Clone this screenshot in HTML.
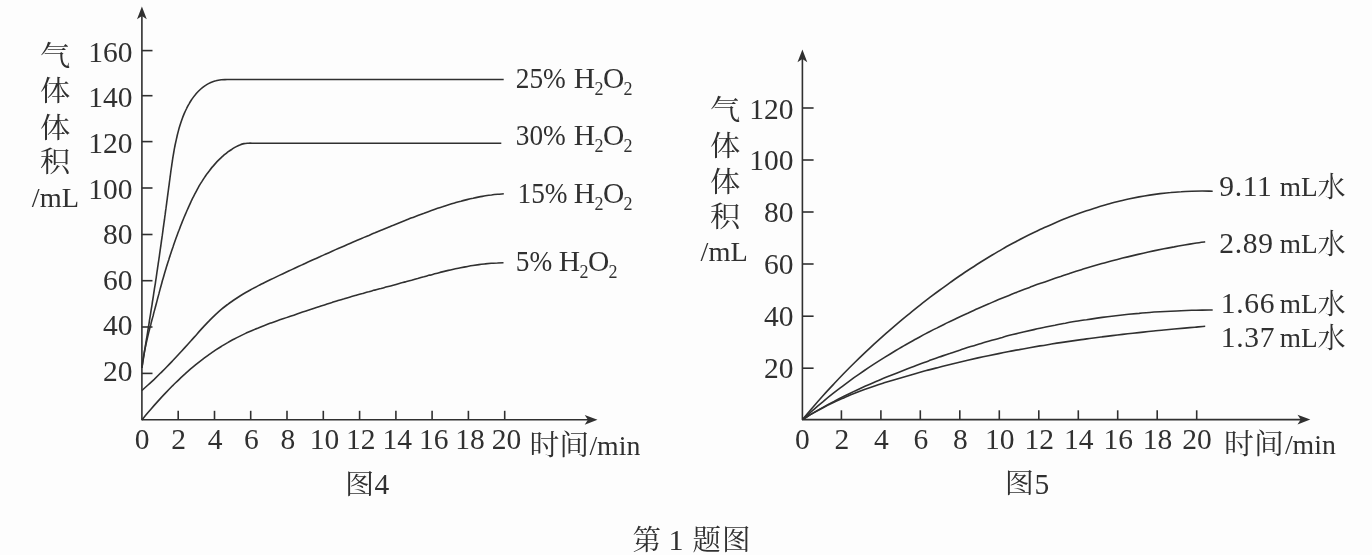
<!DOCTYPE html>
<html lang="zh-CN"><head><meta charset="utf-8"><title>第 1 题图</title>
<style>
html,body{margin:0;padding:0;background:#fdfdfd;}
body{width:1372px;height:555px;overflow:hidden;}
svg{display:block;position:absolute;left:0;top:0;}
text{font-family:"Liberation Serif","Noto Serif CJK SC",serif;fill:#303030;}
.n{font-size:29.5px;font-family:"Liberation Serif","Noto Serif CJK SC",serif;}
.c{font-size:28px;font-family:"Liberation Serif","Noto Serif CJK SC",serif;}
.s{font-size:18px;}
.m{font-size:27.8px;}
.m2{font-size:27.3px;}
.ln{fill:none;stroke:#303030;stroke-width:1.6;stroke-linecap:butt;stroke-linejoin:round;}
.ar{fill:#303030;stroke:none;}
</style></head><body>
<svg width="1372" height="555" viewBox="0 0 1372 555">
<rect x="0" y="0" width="1372" height="555" fill="#fdfdfd"/>
<g id="fig4">
<path class="ln" d="M141.9 16.0 L141.9 419.8 L590.0 419.8"/>
<path class="ar" d="M141.9 6.5 L146.8 19.3 L141.9 16.1 L137.0 19.3 Z"/>
<path class="ar" d="M597.5 419.8 L584.7 414.9 L587.9 419.8 L584.7 424.7 Z"/>
<path class="ln" d="M141.9 373.4 H152.5"/>
<path class="ln" d="M141.9 327.0 H152.5"/>
<path class="ln" d="M141.9 280.7 H152.5"/>
<path class="ln" d="M141.9 234.5 H152.5"/>
<path class="ln" d="M141.9 188.0 H152.5"/>
<path class="ln" d="M141.9 141.6 H152.5"/>
<path class="ln" d="M141.9 95.7 H152.5"/>
<path class="ln" d="M141.9 50.6 H152.5"/>
<path class="ln" d="M178.2 419.8 V410.8"/>
<path class="ln" d="M214.5 419.8 V410.8"/>
<path class="ln" d="M250.7 419.8 V410.8"/>
<path class="ln" d="M287.0 419.8 V410.8"/>
<path class="ln" d="M323.3 419.8 V410.8"/>
<path class="ln" d="M359.6 419.8 V410.8"/>
<path class="ln" d="M395.9 419.8 V410.8"/>
<path class="ln" d="M432.1 419.8 V410.8"/>
<path class="ln" d="M468.4 419.8 V410.8"/>
<path class="ln" d="M504.7 419.8 V410.8"/>
<path class="ln" d="M141.9 368.0 C142.0 367.1 142.5 364.5 142.7 362.7 C143.0 360.9 143.3 359.1 143.6 357.4 C143.9 355.6 144.1 353.8 144.4 352.0 C144.7 350.3 145.0 348.5 145.3 346.7 C145.6 345.0 145.8 343.2 146.1 341.4 C146.4 339.6 146.7 337.9 147.0 336.1 C147.3 334.3 147.6 332.6 147.8 330.8 C148.1 329.0 148.4 327.3 148.7 325.5 C149.0 323.7 149.3 322.0 149.5 320.2 C149.8 318.4 150.1 316.6 150.4 314.9 C150.7 313.1 150.9 311.3 151.2 309.6 C151.5 307.8 151.8 306.0 152.1 304.3 C152.3 302.5 152.6 300.7 152.9 299.0 C153.2 297.2 153.5 295.4 153.7 293.7 C154.0 291.9 154.3 290.1 154.5 288.4 C154.8 286.6 155.1 284.8 155.4 283.1 C155.6 281.3 155.9 279.6 156.2 277.8 C156.4 276.0 156.7 274.3 156.9 272.5 C157.2 270.7 157.5 269.0 157.7 267.2 C158.0 265.4 158.2 263.7 158.5 261.9 C158.8 260.1 159.0 258.4 159.3 256.6 C159.5 254.8 159.8 253.1 160.0 251.3 C160.3 249.5 160.5 247.8 160.8 246.0 C161.0 244.2 161.3 242.5 161.5 240.7 C161.8 238.9 162.0 237.2 162.3 235.4 C162.5 233.6 162.8 231.9 163.0 230.1 C163.2 228.3 163.5 226.6 163.7 224.8 C164.0 223.0 164.2 221.3 164.5 219.5 C164.7 217.7 164.9 216.0 165.2 214.2 C165.4 212.4 165.6 210.6 165.9 208.9 C166.1 207.1 166.4 205.3 166.6 203.6 C166.8 201.8 167.1 200.0 167.3 198.3 C167.5 196.5 167.8 194.7 168.0 192.9 C168.2 191.2 168.5 189.4 168.7 187.6 C169.0 185.9 169.2 184.1 169.4 182.3 C169.7 180.5 169.9 178.8 170.1 177.0 C170.4 175.2 170.6 173.4 170.8 171.7 C171.1 169.9 171.3 168.1 171.6 166.3 C171.8 164.5 172.1 162.8 172.4 161.0 C172.6 159.2 172.9 157.4 173.2 155.7 C173.5 153.9 173.8 152.1 174.1 150.3 C174.4 148.5 174.8 146.8 175.1 145.0 C175.5 143.2 175.9 141.4 176.3 139.6 C176.7 137.8 177.1 136.1 177.5 134.3 C178.0 132.5 178.5 130.7 178.9 128.9 C179.4 127.2 180.0 125.4 180.5 123.7 C181.1 121.9 181.7 120.2 182.3 118.5 C182.9 116.8 183.6 115.1 184.3 113.4 C185.0 111.8 185.8 110.1 186.6 108.5 C187.3 106.9 188.2 105.4 189.1 103.8 C189.9 102.3 190.9 100.8 191.8 99.4 C192.8 97.9 193.8 96.5 194.9 95.2 C196.0 93.8 197.2 92.5 198.4 91.3 C199.6 90.1 200.8 88.9 202.1 87.9 C203.4 86.8 204.8 85.8 206.3 84.9 C207.7 84.0 209.2 83.2 210.8 82.5 C212.4 81.8 214.0 81.2 215.8 80.8 C217.5 80.3 219.3 80.0 221.2 79.8 C223.0 79.6 226.0 79.6 227.0 79.5 L503.7 79.5"/>
<path class="ln" d="M141.9 368.0 C142.0 367.3 142.3 365.1 142.5 363.6 C142.7 362.1 142.9 360.6 143.1 359.2 C143.3 357.7 143.6 356.2 143.9 354.8 C144.1 353.3 144.4 351.9 144.7 350.4 C145.0 348.9 145.3 347.5 145.6 346.0 C145.9 344.5 146.2 343.1 146.6 341.6 C146.9 340.2 147.2 338.7 147.6 337.2 C147.9 335.8 148.3 334.3 148.6 332.9 C149.0 331.4 149.4 330.0 149.7 328.5 C150.1 327.1 150.5 325.6 150.9 324.2 C151.2 322.7 151.6 321.3 152.0 319.8 C152.4 318.4 152.8 316.9 153.2 315.5 C153.5 314.0 153.9 312.6 154.3 311.1 C154.7 309.7 155.1 308.3 155.5 306.8 C155.8 305.4 156.2 303.9 156.6 302.5 C157.0 301.1 157.3 299.6 157.7 298.2 C158.1 296.7 158.5 295.3 158.9 293.9 C159.2 292.4 159.6 291.0 160.0 289.6 C160.4 288.1 160.8 286.7 161.2 285.3 C161.6 283.9 162.0 282.4 162.3 281.0 C162.7 279.6 163.2 278.2 163.6 276.7 C164.0 275.3 164.4 273.9 164.8 272.5 C165.2 271.0 165.7 269.6 166.1 268.2 C166.5 266.8 167.0 265.4 167.4 264.0 C167.8 262.5 168.3 261.1 168.8 259.7 C169.2 258.3 169.7 256.9 170.1 255.5 C170.6 254.1 171.1 252.7 171.5 251.3 C172.0 249.8 172.5 248.4 173.0 247.0 C173.4 245.6 173.9 244.2 174.4 242.8 C174.9 241.4 175.4 240.0 175.9 238.6 C176.4 237.2 176.9 235.8 177.4 234.4 C177.9 233.0 178.5 231.6 179.0 230.3 C179.5 228.9 180.1 227.5 180.6 226.1 C181.1 224.7 181.7 223.3 182.2 221.9 C182.8 220.5 183.4 219.1 183.9 217.8 C184.5 216.4 185.1 215.0 185.7 213.6 C186.3 212.2 186.9 210.9 187.5 209.5 C188.1 208.1 188.7 206.7 189.3 205.4 C189.9 204.0 190.6 202.6 191.2 201.2 C191.9 199.9 192.5 198.5 193.2 197.2 C193.9 195.8 194.6 194.5 195.3 193.1 C196.0 191.8 196.7 190.5 197.4 189.1 C198.1 187.8 198.9 186.5 199.6 185.2 C200.4 183.9 201.2 182.6 202.0 181.4 C202.8 180.1 203.6 178.8 204.4 177.6 C205.2 176.4 206.1 175.1 206.9 173.9 C207.8 172.7 208.7 171.5 209.6 170.4 C210.5 169.2 211.4 168.0 212.4 166.9 C213.3 165.8 214.3 164.7 215.3 163.6 C216.3 162.5 217.3 161.4 218.3 160.4 C219.4 159.3 220.4 158.3 221.5 157.3 C222.6 156.3 223.7 155.4 224.8 154.4 C226.0 153.5 227.1 152.6 228.3 151.7 C229.5 150.8 230.7 150.0 232.0 149.2 C233.2 148.4 234.5 147.6 235.8 146.9 C237.1 146.2 238.4 145.5 239.8 145.0 C241.1 144.4 242.5 143.9 244.0 143.6 C245.4 143.3 246.9 143.3 248.4 143.2 C249.9 143.1 252.2 143.2 253.0 143.2 L501.3 143.2"/>
<path class="ln" d="M141.9 390.5 C142.9 389.6 146.0 386.9 148.0 385.0 C150.1 383.2 152.1 381.2 154.2 379.3 C156.2 377.4 158.3 375.4 160.3 373.3 C162.3 371.3 164.4 369.3 166.4 367.2 C168.5 365.1 170.5 363.0 172.6 360.8 C174.6 358.7 176.7 356.5 178.7 354.3 C180.7 352.1 182.8 349.8 184.8 347.6 C186.9 345.3 188.9 343.1 191.0 340.8 C193.0 338.5 195.1 336.2 197.1 333.9 C199.1 331.6 201.2 329.3 203.2 327.1 C205.3 324.9 207.3 322.7 209.4 320.6 C211.4 318.5 213.5 316.5 215.5 314.6 C217.6 312.7 219.6 310.9 221.6 309.2 C223.7 307.4 225.7 305.9 227.8 304.3 C229.8 302.8 231.9 301.4 233.9 300.0 C236.0 298.6 238.0 297.3 240.0 296.0 C242.1 294.7 244.1 293.5 246.2 292.3 C248.2 291.1 250.3 290.0 252.3 288.9 C254.4 287.8 256.4 286.7 258.4 285.6 C260.5 284.6 262.5 283.5 264.6 282.5 C266.6 281.5 268.7 280.5 270.7 279.5 C272.8 278.6 274.8 277.6 276.8 276.6 C278.9 275.6 280.9 274.7 283.0 273.7 C285.0 272.8 287.1 271.8 289.1 270.8 C291.2 269.9 293.2 268.9 295.2 268.0 C297.3 267.0 299.3 266.1 301.4 265.1 C303.4 264.2 305.5 263.3 307.5 262.3 C309.6 261.4 311.6 260.5 313.6 259.5 C315.7 258.6 317.7 257.7 319.8 256.8 C321.8 255.8 323.9 254.9 325.9 254.0 C328.0 253.1 330.0 252.2 332.1 251.3 C334.1 250.4 336.1 249.5 338.2 248.6 C340.2 247.7 342.3 246.8 344.3 245.9 C346.4 245.0 348.4 244.1 350.5 243.2 C352.5 242.3 354.5 241.5 356.6 240.6 C358.6 239.7 360.7 238.8 362.7 238.0 C364.8 237.1 366.8 236.2 368.9 235.4 C370.9 234.5 372.9 233.6 375.0 232.8 C377.0 231.9 379.1 231.1 381.1 230.2 C383.2 229.4 385.2 228.5 387.3 227.7 C389.3 226.9 391.3 226.0 393.4 225.2 C395.4 224.4 397.5 223.5 399.5 222.7 C401.6 221.9 403.6 221.1 405.7 220.3 C407.7 219.5 409.7 218.6 411.8 217.8 C413.8 217.0 415.9 216.3 417.9 215.5 C420.0 214.7 422.0 213.9 424.1 213.2 C426.1 212.4 428.1 211.6 430.2 210.9 C432.2 210.2 434.3 209.5 436.3 208.7 C438.4 208.0 440.4 207.3 442.5 206.7 C444.5 206.0 446.6 205.3 448.6 204.7 C450.6 204.1 452.7 203.5 454.7 202.9 C456.8 202.3 458.8 201.7 460.9 201.2 C462.9 200.6 465.0 200.1 467.0 199.6 C469.0 199.1 471.1 198.6 473.1 198.2 C475.2 197.7 477.2 197.3 479.3 196.9 C481.3 196.5 483.4 196.2 485.4 195.8 C487.4 195.5 489.5 195.2 491.5 195.0 C493.6 194.7 495.6 194.5 497.7 194.3 C499.7 194.1 502.8 193.9 503.8 193.8"/>
<path class="ln" d="M141.9 419.9 C142.9 418.7 146.0 414.9 148.0 412.5 C150.1 410.1 152.1 407.8 154.2 405.4 C156.2 403.1 158.2 400.9 160.3 398.6 C162.3 396.4 164.4 394.2 166.4 392.1 C168.5 390.0 170.5 387.9 172.5 385.8 C174.6 383.8 176.6 381.8 178.7 379.8 C180.7 377.9 182.8 376.0 184.8 374.2 C186.8 372.3 188.9 370.5 190.9 368.7 C193.0 367.0 195.0 365.3 197.1 363.6 C199.1 362.0 201.1 360.4 203.2 358.8 C205.2 357.3 207.3 355.8 209.3 354.3 C211.4 352.9 213.4 351.4 215.4 350.1 C217.5 348.7 219.5 347.4 221.6 346.2 C223.6 344.9 225.7 343.7 227.7 342.6 C229.7 341.4 231.8 340.3 233.8 339.2 C235.9 338.1 237.9 337.1 240.0 336.1 C242.0 335.1 244.0 334.1 246.1 333.1 C248.1 332.2 250.2 331.3 252.2 330.4 C254.3 329.5 256.3 328.7 258.3 327.9 C260.4 327.0 262.4 326.2 264.5 325.4 C266.5 324.7 268.6 323.9 270.6 323.1 C272.6 322.4 274.7 321.7 276.7 320.9 C278.8 320.2 280.8 319.5 282.9 318.8 C284.9 318.1 286.9 317.4 289.0 316.7 C291.0 316.0 293.1 315.4 295.1 314.7 C297.2 314.0 299.2 313.3 301.2 312.6 C303.3 311.9 305.3 311.3 307.4 310.6 C309.4 309.9 311.5 309.2 313.5 308.5 C315.5 307.9 317.6 307.2 319.6 306.5 C321.7 305.8 323.7 305.2 325.8 304.5 C327.8 303.9 329.9 303.2 331.9 302.6 C333.9 301.9 336.0 301.3 338.0 300.6 C340.1 300.0 342.1 299.4 344.2 298.8 C346.2 298.1 348.2 297.5 350.3 296.9 C352.3 296.3 354.4 295.8 356.4 295.2 C358.5 294.6 360.5 294.0 362.5 293.5 C364.6 292.9 366.6 292.3 368.7 291.8 C370.7 291.2 372.8 290.7 374.8 290.1 C376.8 289.6 378.9 289.0 380.9 288.5 C383.0 287.9 385.0 287.4 387.1 286.8 C389.1 286.3 391.1 285.8 393.2 285.2 C395.2 284.7 397.3 284.1 399.3 283.5 C401.4 283.0 403.4 282.4 405.4 281.9 C407.5 281.3 409.5 280.7 411.6 280.2 C413.6 279.6 415.7 279.0 417.7 278.5 C419.7 277.9 421.8 277.3 423.8 276.8 C425.9 276.2 427.9 275.7 430.0 275.1 C432.0 274.6 434.0 274.0 436.1 273.5 C438.1 273.0 440.2 272.4 442.2 271.9 C444.3 271.4 446.3 270.9 448.3 270.4 C450.4 270.0 452.4 269.5 454.5 269.0 C456.5 268.6 458.6 268.2 460.6 267.7 C462.6 267.3 464.7 266.9 466.7 266.6 C468.8 266.2 470.8 265.8 472.9 265.5 C474.9 265.2 476.9 264.9 479.0 264.6 C481.0 264.3 483.1 264.1 485.1 263.9 C487.2 263.7 489.2 263.5 491.2 263.3 C493.3 263.2 495.3 263.0 497.4 263.0 C499.4 262.9 502.5 262.8 503.5 262.8"/>
<text class="n" x="132.5" y="380.7" text-anchor="end">20</text>
<text class="n" x="132.5" y="335.1" text-anchor="end">40</text>
<text class="n" x="132.5" y="289.6" text-anchor="end">60</text>
<text class="n" x="132.5" y="244.1" text-anchor="end">80</text>
<text class="n" x="132.5" y="198.5" text-anchor="end">100</text>
<text class="n" x="132.5" y="153.0" text-anchor="end">120</text>
<text class="n" x="132.5" y="107.4" text-anchor="end">140</text>
<text class="n" x="132.5" y="61.9" text-anchor="end">160</text>
<text class="n" x="142.1" y="449.1" text-anchor="middle">0</text>
<text class="n" x="178.6" y="449.1" text-anchor="middle">2</text>
<text class="n" x="215.0" y="449.1" text-anchor="middle">4</text>
<text class="n" x="251.4" y="449.1" text-anchor="middle">6</text>
<text class="n" x="287.9" y="449.1" text-anchor="middle">8</text>
<text class="n" x="324.4" y="449.1" text-anchor="middle">10</text>
<text class="n" x="360.8" y="449.1" text-anchor="middle">12</text>
<text class="n" x="397.2" y="449.1" text-anchor="middle">14</text>
<text class="n" x="433.7" y="449.1" text-anchor="middle">16</text>
<text class="n" x="470.1" y="449.1" text-anchor="middle">18</text>
<text class="n" x="506.6" y="449.1" text-anchor="middle">20</text>
<text class="c" x="529.4" y="455" textLength="59.8" lengthAdjust="spacingAndGlyphs">时间</text><text class="m" x="589.4" y="454.6">/min</text>
<text class="c" transform="translate(55.2 65.5) scale(1.08 1)" x="0" y="0" text-anchor="middle">气</text>
<text class="c" transform="translate(55.2 100.8) scale(1.08 1)" x="0" y="0" text-anchor="middle">体</text>
<text class="c" transform="translate(55.2 137.5) scale(1.08 1)" x="0" y="0" text-anchor="middle">体</text>
<text class="c" transform="translate(55.2 171.7) scale(1.08 1)" x="0" y="0" text-anchor="middle">积</text>
<text class="m" x="55.4" y="206.6" text-anchor="middle" style="font-size:28.3px">/mL</text>
<text class="n" x="515.8" y="88.0" textLength="50.0" lengthAdjust="spacingAndGlyphs">25%</text><text class="n" y="88.0"><tspan x="573.7">H</tspan><tspan class="s" x="594.6" dy="7">2</tspan><tspan x="603.0" dy="-7">O</tspan><tspan class="s" x="623.4" dy="7">2</tspan></text>
<text class="n" x="515.8" y="145.2" textLength="50.0" lengthAdjust="spacingAndGlyphs">30%</text><text class="n" y="145.2"><tspan x="573.7">H</tspan><tspan class="s" x="594.6" dy="7">2</tspan><tspan x="603.0" dy="-7">O</tspan><tspan class="s" x="623.4" dy="7">2</tspan></text>
<text class="n" x="517.5" y="202.6" textLength="50.0" lengthAdjust="spacingAndGlyphs">15%</text><text class="n" y="202.6"><tspan x="573.7">H</tspan><tspan class="s" x="594.6" dy="7">2</tspan><tspan x="603.0" dy="-7">O</tspan><tspan class="s" x="623.4" dy="7">2</tspan></text>
<text class="n" x="515.8" y="271.2" textLength="36.4" lengthAdjust="spacingAndGlyphs">5%</text><text class="n" y="271.2"><tspan x="558.7">H</tspan><tspan class="s" x="579.6" dy="7">2</tspan><tspan x="588.0" dy="-7">O</tspan><tspan class="s" x="608.4" dy="7">2</tspan></text>
<text class="c" x="345.0" y="493.8" style="font-size:27.5px" textLength="29.2" lengthAdjust="spacingAndGlyphs">图</text><text class="n" x="374.6" y="494">4</text>
</g>
<g id="fig5">
<path class="ln" d="M802.4 59.0 L802.4 419.6 L1302.0 419.6"/>
<path class="ar" d="M802.4 49.5 L807.3 62.3 L802.4 59.1 L797.5 62.3 Z"/>
<path class="ar" d="M1310.3 419.6 L1297.5 414.7 L1300.7 419.6 L1297.5 424.5 Z"/>
<path class="ln" d="M802.4 368.2 H813.6"/>
<path class="ln" d="M802.4 316.2 H813.6"/>
<path class="ln" d="M802.4 264.0 H813.6"/>
<path class="ln" d="M802.4 212.0 H813.6"/>
<path class="ln" d="M802.4 160.0 H813.6"/>
<path class="ln" d="M802.4 108.0 H813.6"/>
<path class="ln" d="M841.4 419.6 V410.3"/>
<path class="ln" d="M880.9 419.6 V410.3"/>
<path class="ln" d="M920.3 419.6 V410.3"/>
<path class="ln" d="M959.8 419.6 V410.3"/>
<path class="ln" d="M999.3 419.6 V410.3"/>
<path class="ln" d="M1038.8 419.6 V410.3"/>
<path class="ln" d="M1078.3 419.6 V410.3"/>
<path class="ln" d="M1117.7 419.6 V410.3"/>
<path class="ln" d="M1157.2 419.6 V410.3"/>
<path class="ln" d="M1196.7 419.6 V410.3"/>
<path class="ln" d="M802.4 419.6 C804.2 417.5 809.4 411.2 812.9 407.2 C816.4 403.1 819.9 399.1 823.4 395.2 C826.9 391.3 830.5 387.5 834.0 383.8 C837.5 380.1 841.0 376.4 844.5 372.8 C848.0 369.2 851.5 365.7 855.0 362.3 C858.5 358.8 862.0 355.4 865.5 352.1 C869.0 348.8 872.5 345.5 876.0 342.3 C879.6 339.1 883.1 336.0 886.6 332.9 C890.1 329.8 893.6 326.8 897.1 323.8 C900.6 320.9 904.1 317.9 907.6 315.1 C911.1 312.2 914.6 309.4 918.1 306.6 C921.6 303.8 925.1 301.1 928.6 298.4 C932.2 295.7 935.7 293.0 939.2 290.5 C942.7 287.9 946.2 285.3 949.7 282.8 C953.2 280.3 956.7 277.9 960.2 275.5 C963.7 273.1 967.2 270.8 970.7 268.5 C974.2 266.2 977.7 263.9 981.2 261.7 C984.8 259.5 988.3 257.4 991.8 255.3 C995.3 253.2 998.8 251.1 1002.3 249.1 C1005.8 247.1 1009.3 245.2 1012.8 243.3 C1016.3 241.4 1019.8 239.5 1023.3 237.7 C1026.8 235.9 1030.3 234.2 1033.9 232.5 C1037.4 230.8 1040.9 229.1 1044.4 227.5 C1047.9 225.9 1051.4 224.4 1054.9 222.9 C1058.4 221.4 1061.9 219.9 1065.4 218.5 C1068.9 217.1 1072.4 215.8 1075.9 214.5 C1079.4 213.2 1082.9 212.0 1086.5 210.8 C1090.0 209.6 1093.5 208.5 1097.0 207.4 C1100.5 206.3 1104.0 205.3 1107.5 204.3 C1111.0 203.3 1114.5 202.4 1118.0 201.5 C1121.5 200.6 1125.0 199.8 1128.5 199.0 C1132.0 198.3 1135.5 197.6 1139.1 196.9 C1142.6 196.3 1146.1 195.7 1149.6 195.1 C1153.1 194.6 1156.6 194.1 1160.1 193.6 C1163.6 193.2 1167.1 192.8 1170.6 192.5 C1174.1 192.1 1177.6 191.9 1181.1 191.7 C1184.6 191.4 1188.2 191.3 1191.7 191.2 C1195.2 191.1 1198.7 191.0 1202.2 191.0 C1205.7 191.0 1210.9 191.2 1212.7 191.2"/>
<path class="ln" d="M802.4 419.6 C804.1 418.1 809.3 413.4 812.7 410.4 C816.2 407.4 819.6 404.4 823.1 401.6 C826.5 398.7 829.9 395.9 833.4 393.2 C836.8 390.5 840.3 387.9 843.7 385.3 C847.2 382.7 850.6 380.2 854.0 377.7 C857.5 375.3 860.9 372.9 864.4 370.5 C867.8 368.2 871.3 365.9 874.7 363.7 C878.1 361.4 881.6 359.2 885.0 357.1 C888.5 355.0 891.9 352.9 895.4 350.8 C898.8 348.8 902.2 346.8 905.7 344.8 C909.1 342.8 912.6 340.9 916.0 339.0 C919.5 337.1 922.9 335.3 926.3 333.4 C929.8 331.6 933.2 329.8 936.7 328.1 C940.1 326.3 943.6 324.6 947.0 322.9 C950.4 321.2 953.9 319.6 957.3 318.0 C960.8 316.3 964.2 314.7 967.7 313.2 C971.1 311.6 974.5 310.0 978.0 308.5 C981.4 307.0 984.9 305.5 988.3 304.0 C991.8 302.5 995.2 301.1 998.6 299.6 C1002.1 298.2 1005.5 296.8 1009.0 295.4 C1012.4 294.0 1015.8 292.7 1019.3 291.3 C1022.7 290.0 1026.2 288.7 1029.6 287.4 C1033.1 286.1 1036.5 284.8 1039.9 283.6 C1043.4 282.3 1046.8 281.1 1050.3 279.9 C1053.7 278.7 1057.2 277.5 1060.6 276.4 C1064.0 275.2 1067.5 274.1 1070.9 273.0 C1074.4 271.9 1077.8 270.8 1081.3 269.7 C1084.7 268.7 1088.1 267.6 1091.6 266.6 C1095.0 265.6 1098.5 264.6 1101.9 263.6 C1105.4 262.7 1108.8 261.7 1112.2 260.8 C1115.7 259.9 1119.1 259.0 1122.6 258.1 C1126.0 257.3 1129.5 256.4 1132.9 255.6 C1136.3 254.8 1139.8 254.0 1143.2 253.2 C1146.7 252.4 1150.1 251.7 1153.6 250.9 C1157.0 250.2 1160.4 249.5 1163.9 248.8 C1167.3 248.1 1170.8 247.5 1174.2 246.9 C1177.7 246.2 1181.1 245.6 1184.5 245.0 C1188.0 244.4 1191.4 243.9 1194.9 243.3 C1198.3 242.8 1203.5 242.1 1205.2 241.8"/>
<path class="ln" d="M802.4 419.6 C804.2 418.5 809.4 415.2 812.9 413.1 C816.4 411.0 819.9 409.0 823.4 407.1 C826.9 405.1 830.5 403.2 834.0 401.4 C837.5 399.5 841.0 397.7 844.5 396.0 C848.0 394.3 851.5 392.6 855.0 390.9 C858.5 389.3 862.0 387.7 865.5 386.1 C869.0 384.5 872.5 383.0 876.0 381.5 C879.6 380.0 883.1 378.5 886.6 377.1 C890.1 375.7 893.6 374.3 897.1 372.9 C900.6 371.5 904.1 370.1 907.6 368.7 C911.1 367.4 914.6 366.1 918.1 364.7 C921.6 363.4 925.1 362.1 928.6 360.9 C932.2 359.6 935.7 358.3 939.2 357.1 C942.7 355.9 946.2 354.6 949.7 353.5 C953.2 352.3 956.7 351.1 960.2 350.0 C963.7 348.8 967.2 347.7 970.7 346.6 C974.2 345.5 977.7 344.4 981.2 343.4 C984.8 342.3 988.3 341.3 991.8 340.3 C995.3 339.3 998.8 338.3 1002.3 337.4 C1005.8 336.4 1009.3 335.5 1012.8 334.6 C1016.3 333.7 1019.8 332.9 1023.3 332.0 C1026.8 331.2 1030.3 330.4 1033.9 329.6 C1037.4 328.8 1040.9 328.0 1044.4 327.3 C1047.9 326.5 1051.4 325.8 1054.9 325.2 C1058.4 324.5 1061.9 323.8 1065.4 323.2 C1068.9 322.5 1072.4 321.9 1075.9 321.3 C1079.4 320.8 1082.9 320.2 1086.5 319.7 C1090.0 319.1 1093.5 318.6 1097.0 318.1 C1100.5 317.6 1104.0 317.2 1107.5 316.7 C1111.0 316.3 1114.5 315.9 1118.0 315.5 C1121.5 315.1 1125.0 314.7 1128.5 314.3 C1132.0 314.0 1135.5 313.7 1139.1 313.4 C1142.6 313.0 1146.1 312.8 1149.6 312.5 C1153.1 312.2 1156.6 312.0 1160.1 311.8 C1163.6 311.6 1167.1 311.4 1170.6 311.2 C1174.1 311.0 1177.6 310.8 1181.1 310.7 C1184.6 310.6 1188.2 310.4 1191.7 310.3 C1195.2 310.3 1198.7 310.2 1202.2 310.1 C1205.7 310.1 1210.9 310.0 1212.7 310.0"/>
<path class="ln" d="M802.4 419.6 C804.1 418.6 809.3 415.4 812.7 413.4 C816.2 411.4 819.6 409.5 823.1 407.7 C826.5 405.9 829.9 404.2 833.4 402.6 C836.8 400.9 840.3 399.4 843.7 397.9 C847.2 396.4 850.6 395.0 854.0 393.6 C857.5 392.2 860.9 390.9 864.4 389.6 C867.8 388.4 871.3 387.2 874.7 386.0 C878.1 384.8 881.6 383.7 885.0 382.6 C888.5 381.5 891.9 380.5 895.4 379.4 C898.8 378.4 902.2 377.4 905.7 376.4 C909.1 375.4 912.6 374.4 916.0 373.4 C919.5 372.5 922.9 371.5 926.3 370.6 C929.8 369.7 933.2 368.7 936.7 367.9 C940.1 367.0 943.6 366.1 947.0 365.2 C950.4 364.4 953.9 363.5 957.3 362.7 C960.8 361.9 964.2 361.1 967.7 360.3 C971.1 359.5 974.5 358.7 978.0 357.9 C981.4 357.2 984.9 356.4 988.3 355.7 C991.8 355.0 995.2 354.3 998.6 353.6 C1002.1 352.9 1005.5 352.2 1009.0 351.5 C1012.4 350.9 1015.8 350.2 1019.3 349.6 C1022.7 348.9 1026.2 348.3 1029.6 347.7 C1033.1 347.1 1036.5 346.5 1039.9 345.9 C1043.4 345.4 1046.8 344.8 1050.3 344.2 C1053.7 343.7 1057.2 343.2 1060.6 342.6 C1064.0 342.1 1067.5 341.6 1070.9 341.1 C1074.4 340.6 1077.8 340.1 1081.3 339.6 C1084.7 339.1 1088.1 338.7 1091.6 338.2 C1095.0 337.7 1098.5 337.3 1101.9 336.9 C1105.4 336.4 1108.8 336.0 1112.2 335.6 C1115.7 335.2 1119.1 334.8 1122.6 334.4 C1126.0 334.0 1129.5 333.6 1132.9 333.2 C1136.3 332.8 1139.8 332.4 1143.2 332.1 C1146.7 331.7 1150.1 331.4 1153.6 331.0 C1157.0 330.7 1160.4 330.3 1163.9 330.0 C1167.3 329.7 1170.8 329.3 1174.2 329.0 C1177.7 328.7 1181.1 328.4 1184.5 328.1 C1188.0 327.8 1191.4 327.5 1194.9 327.2 C1198.3 326.9 1203.5 326.4 1205.2 326.3"/>
<text class="n" x="793.6" y="377.5" text-anchor="end">20</text>
<text class="n" x="793.6" y="325.7" text-anchor="end">40</text>
<text class="n" x="793.6" y="273.9" text-anchor="end">60</text>
<text class="n" x="793.6" y="222.1" text-anchor="end">80</text>
<text class="n" x="793.6" y="170.3" text-anchor="end">100</text>
<text class="n" x="793.6" y="118.5" text-anchor="end">120</text>
<text class="n" x="802.4" y="448.6" text-anchor="middle">0</text>
<text class="n" x="841.9" y="448.6" text-anchor="middle">2</text>
<text class="n" x="881.3" y="448.6" text-anchor="middle">4</text>
<text class="n" x="920.8" y="448.6" text-anchor="middle">6</text>
<text class="n" x="960.3" y="448.6" text-anchor="middle">8</text>
<text class="n" x="999.8" y="448.6" text-anchor="middle">10</text>
<text class="n" x="1039.2" y="448.6" text-anchor="middle">12</text>
<text class="n" x="1078.7" y="448.6" text-anchor="middle">14</text>
<text class="n" x="1118.2" y="448.6" text-anchor="middle">16</text>
<text class="n" x="1157.6" y="448.6" text-anchor="middle">18</text>
<text class="n" x="1197.1" y="448.6" text-anchor="middle">20</text>
<text class="c" x="1224.0" y="454.4" textLength="59.8" lengthAdjust="spacingAndGlyphs">时间</text><text class="m" x="1284.9" y="453.9">/min</text>
<text class="c" transform="translate(725 119.5) scale(1.08 1)" x="0" y="0" text-anchor="middle">气</text>
<text class="c" transform="translate(725 155.5) scale(1.08 1)" x="0" y="0" text-anchor="middle">体</text>
<text class="c" transform="translate(725 191.5) scale(1.08 1)" x="0" y="0" text-anchor="middle">体</text>
<text class="c" transform="translate(725 226.5) scale(1.08 1)" x="0" y="0" text-anchor="middle">积</text>
<text class="m" x="724.2" y="261" text-anchor="middle" style="font-size:28.3px">/mL</text>
<text class="n" x="1219.2" y="196.2" style="letter-spacing:0.7px">9.11</text><text class="m2" x="1279.8" y="196.2">mL</text><text class="c" x="1317.6" y="197.1">水</text>
<text class="n" x="1219.2" y="252.6" style="letter-spacing:0.7px">2.89</text><text class="m2" x="1279.8" y="252.6">mL</text><text class="c" x="1317.6" y="253.5">水</text>
<text class="n" x="1220.7" y="312.6" style="letter-spacing:0.7px">1.66</text><text class="m2" x="1279.8" y="312.6">mL</text><text class="c" x="1317.6" y="313.5">水</text>
<text class="n" x="1220.7" y="347.2" style="letter-spacing:0.7px">1.37</text><text class="m2" x="1279.8" y="347.2">mL</text><text class="c" x="1317.6" y="348.1">水</text>
<text class="c" x="1004.8" y="493.4" style="font-size:27.5px" textLength="29.2" lengthAdjust="spacingAndGlyphs">图</text><text class="n" x="1034.4" y="493.5">5</text>
</g>
<text class="c" y="549.8" style="font-size:28.5px"><tspan x="632.5">第</tspan><tspan> </tspan><tspan class="n" x="668.6" style="font-size:30px">1</tspan><tspan> </tspan><tspan x="692.6">题</tspan><tspan x="722.1">图</tspan></text>
</svg></body></html>
